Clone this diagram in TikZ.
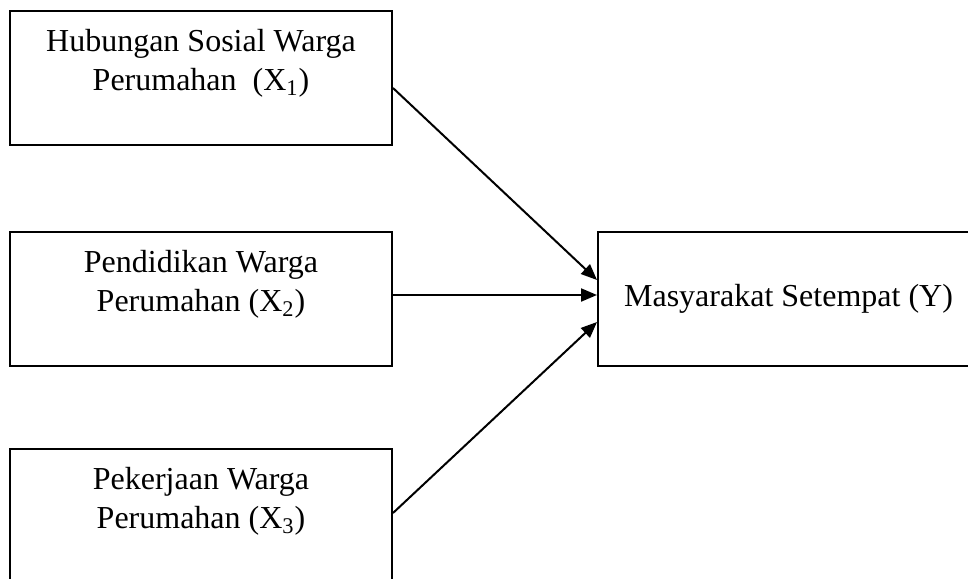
\documentclass[tikz,border=0pt]{standalone}
\usepackage{fontspec}
\setmainfont{Liberation Serif}
\usetikzlibrary{arrows.meta,positioning}
\tikzset{
  varbox/.style={draw, line width=1pt, minimum width=191pt, minimum height=67pt, inner sep=0pt},
  boxtext/.style={align=center, inner sep=0pt, font=\fontsize{16}{19.5}\selectfont},
  link/.style={-{Triangle[length=8pt,width=6.5pt]}, line width=1pt}
}
\begin{document}
\begin{tikzpicture}[x=0.5pt,y=-0.5pt]
\clip (0,0) rectangle (968,578);
% variable boxes
\node[varbox] (x1) at (201,77.5) {};
\node[varbox] (x2) at (201,299) {};
\node[varbox] (x3) at (201,516) {};
\node[varbox, minimum width=190.5pt, font=\fontsize{16}{19.5}\selectfont] (y) at (788.5,299) {Masyarakat Setempat (Y)};
% texts at the top of the left boxes
\node[boxtext, below=9.5pt of x1.north] (x1text) {Hubungan Sosial Warga\\Perumahan~ (X\textsubscript{1})};
\node[boxtext, below=9.5pt of x2.north] (x2text) {Pendidikan Warga\\Perumahan (X\textsubscript{2})};
\node[boxtext, below=9.5pt of x3.north] (x3text) {Pekerjaan Warga\\Perumahan (X\textsubscript{3})};
% arrows
\draw[link] ([yshift=-5.25pt]x1.east) -- ([yshift=9.5pt]y.west);
\draw[link] ([yshift=2pt]x2.east) -- ([yshift=2pt]y.west);
\draw[link] ([yshift=1.5pt]x3.east) -- ([yshift=-11.5pt]y.west);
\end{tikzpicture}
\end{document}
